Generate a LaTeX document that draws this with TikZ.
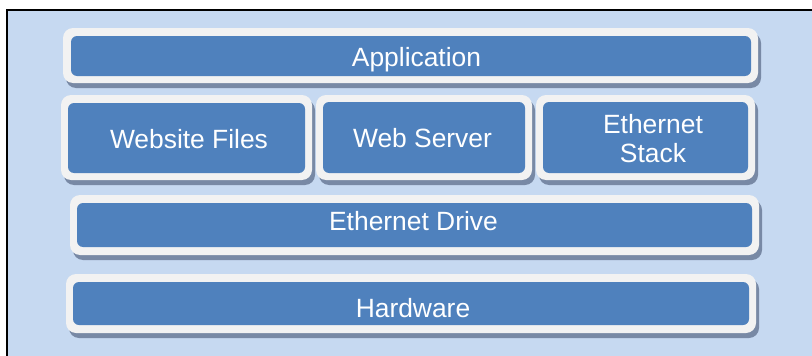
\documentclass[tikz,border=0pt]{standalone}
\usepackage{fontspec}
\setmainfont{Liberation Sans}
\definecolor{bgblue}{HTML}{C6D9F1}
\definecolor{boxblue}{HTML}{4F81BD}
\definecolor{ringwhite}{HTML}{F2F2F2}
\definecolor{shadowc}{HTML}{7889A5}
\tikzset{
  ring/.style={fill=ringwhite, rounded corners=10pt},
  shade box/.style={fill=shadowc, rounded corners=10pt},
  bluebox/.style={fill=boxblue, rounded corners=6pt, inner sep=0pt},
  label text/.style={inner sep=0pt, text=white, align=center,
    font=\fontsize{26.4}{29}\selectfont},
  frame/.style={draw=black, line width=2pt}
}
\begin{document}
\begin{tikzpicture}[x=1pt,y=-1pt]
\useasboundingbox (0,0) rectangle (812,356);
\fill[white] (0,0) rectangle (812,356);
\fill[bgblue] (7,9.5) rectangle (812,356);
\draw[frame] (7,356) -- (7,9.5) -- (812,9.5);
% Application
\fill[shade box] (66,33) rectangle (761,88);
\fill[ring] (63,28) rectangle (758,83);
\node[bluebox, minimum width=680pt, minimum height=40pt] (app) at (411,56) {};
\node[label text, anchor=base] (appt) at (416.5,66.7) {Application};
% Website Files
\fill[shade box] (64,100) rectangle (315,185);
\fill[ring] (61,95) rectangle (312,180);
\node[bluebox, minimum width=237pt, minimum height=70pt] (wf) at (186.5,138) {};
\node[label text, anchor=base] (wft) at (189,148.5) {Website Files};
% Web Server
\fill[shade box] (319,100) rectangle (535,185);
\fill[ring] (316,95) rectangle (532,180);
\node[bluebox, minimum width=202pt, minimum height=71pt] (ws) at (424,137.5) {};
\node[label text, anchor=base] (wst) at (422.5,147) {Web Server};
% Ethernet Stack
\fill[shade box] (539,100) rectangle (758,185);
\fill[ring] (536,95) rectangle (755,180);
\node[bluebox, minimum width=205pt, minimum height=71pt] (es) at (645.5,137.5) {};
\node[label text] (est) at (653,138.4) {Ethernet\\Stack};
% Ethernet Drive
\fill[shade box] (73,200) rectangle (762,260);
\fill[ring] (70,195) rectangle (759,255);
\node[bluebox, minimum width=675pt, minimum height=44pt] (ed) at (414.5,225) {};
\node[label text, anchor=base] (edt) at (413.5,230.5) {Ethernet Drive};
% Hardware
\fill[shade box] (69,279) rectangle (759,338);
\fill[ring] (66,274) rectangle (756,333);
\node[bluebox, minimum width=676pt, minimum height=43pt] (hw) at (411,303.5) {};
\node[label text, anchor=base] (hwt) at (413,317) {Hardware};
\end{tikzpicture}
\end{document}
